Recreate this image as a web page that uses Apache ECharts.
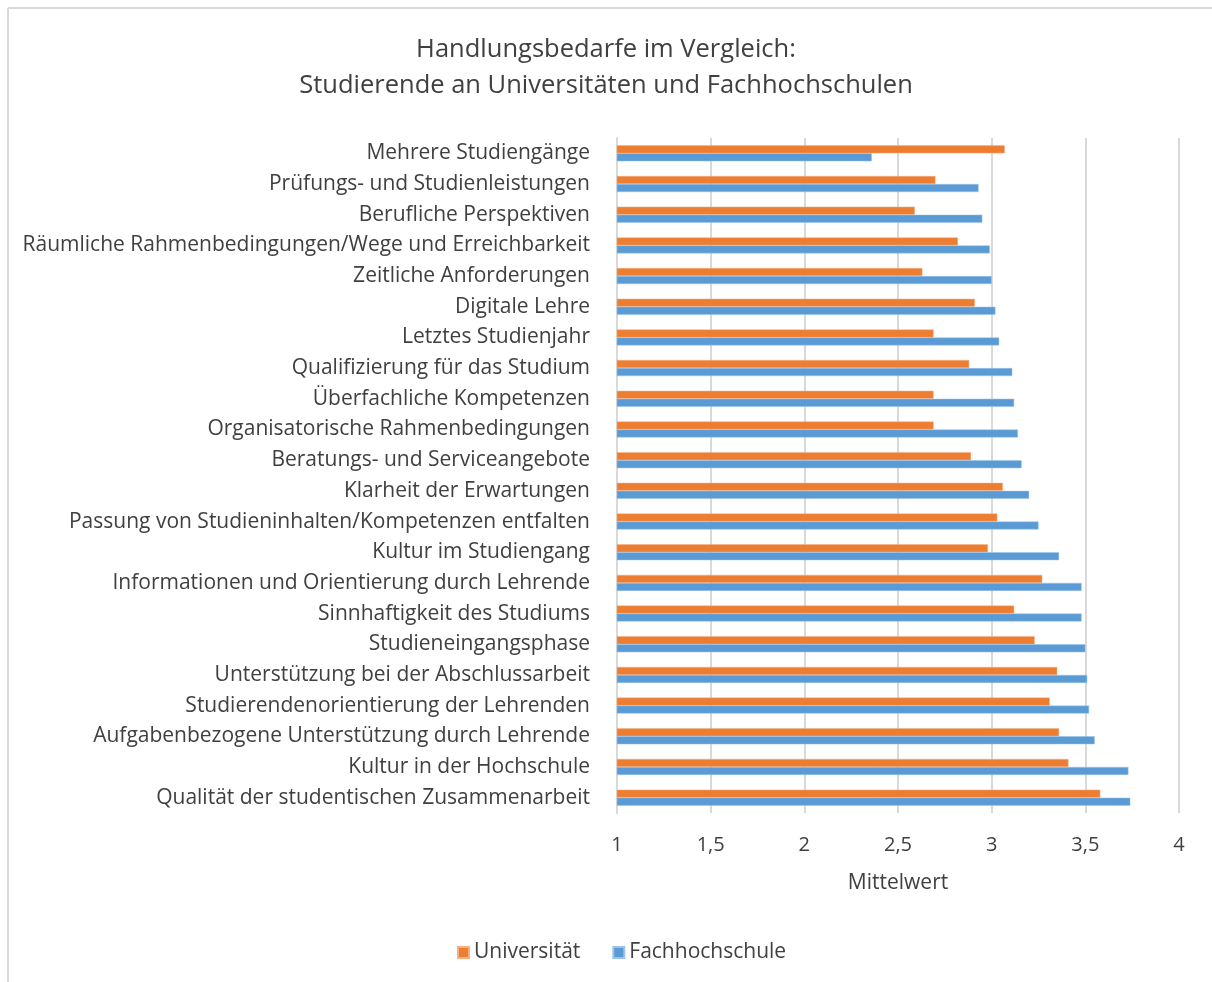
<!DOCTYPE html>
<html>
<head>
<meta charset="utf-8">
<script src="https://cdn.jsdelivr.net/npm/echarts@6/dist/echarts.min.js"></script>
<style>
html,body{margin:0;padding:0;background:#fff;}
#c{width:1212px;height:982px;}
</style>
</head>
<body>
<div id="c"></div>
<script>
// Categories, top to bottom as shown
const categories = [
  "Mehrere Studiengänge",
  "Prüfungs- und Studienleistungen",
  "Berufliche Perspektiven",
  "Räumliche Rahmenbedingungen/Wege und Erreichbarkeit",
  "Zeitliche Anforderungen",
  "Digitale Lehre",
  "Letztes Studienjahr",
  "Qualifizierung für das Studium",
  "Überfachliche Kompetenzen",
  "Organisatorische Rahmenbedingungen",
  "Beratungs- und Serviceangebote",
  "Klarheit der Erwartungen",
  "Passung von Studieninhalten/Kompetenzen entfalten",
  "Kultur im Studiengang",
  "Informationen und Orientierung durch Lehrende",
  "Sinnhaftigkeit des Studiums",
  "Studieneingangsphase",
  "Unterstützung bei der Abschlussarbeit",
  "Studierendenorientierung der Lehrenden",
  "Aufgabenbezogene Unterstützung durch Lehrende",
  "Kultur in der Hochschule",
  "Qualität der studentischen Zusammenarbeit"
];
const universitaet = [3.07, 2.70, 2.59, 2.82, 2.63, 2.91, 2.69, 2.88, 2.69, 2.69, 2.89, 3.06, 3.03, 2.98, 3.27, 3.12, 3.23, 3.35, 3.31, 3.36, 3.41, 3.58];
const fachhochschule = [2.36, 2.93, 2.95, 2.99, 3.00, 3.02, 3.04, 3.11, 3.12, 3.14, 3.16, 3.20, 3.25, 3.36, 3.48, 3.48, 3.50, 3.51, 3.52, 3.55, 3.73, 3.74];
const seriesNames = ["Universität", "Fachhochschule"];
const titleLines = ["Handlungsbedarfe im Vergleich:", "Studierende an Universitäten und Fachhochschulen"];
const axisName = "Mittelwert";

const FONT = "Open Sans";
const TXT = "#404040";

const chart = echarts.init(document.getElementById('c'));
chart.setOption({
  backgroundColor: '#ffffff',
  animation: false,
  title: {
    text: titleLines.join('\n'),
    left: 'center',
    top: 27,
    textStyle: { fontFamily: FONT, fontSize: 25.5, fontWeight: 'normal', color: TXT, lineHeight: 36 }
  },
  legend: {
    data: seriesNames,
    bottom: 14,
    left: 452,
    itemWidth: 11,
    itemHeight: 11,
    itemGap: 32,
    icon: 'rect',
    textStyle: { fontFamily: FONT, fontSize: 21, color: TXT }
  },
  grid: { left: 617, right: 33, top: 138, bottom: 169, containLabel: false },
  xAxis: {
    type: 'value',
    min: 1, max: 4, interval: 0.5,
    name: axisName,
    nameLocation: 'middle',
    nameGap: 60,
    nameTextStyle: { fontFamily: FONT, fontSize: 21, color: TXT },
    axisLine: { show: false },
    axisTick: { show: false },
    axisLabel: {
      fontFamily: FONT, fontSize: 20, color: TXT, margin: 22,
      formatter: v => String(v).replace('.', ',')
    },
    splitLine: { lineStyle: { color: '#d9d9d9', width: 2 } }
  },
  yAxis: {
    type: 'category',
    data: categories,
    inverse: true,
    axisLine: { show: true, lineStyle: { color: '#d9d9d9', width: 2 } },
    axisTick: { show: false },
    axisLabel: { fontFamily: FONT, fontSize: 21, color: TXT, margin: 27 }
  },
  series: [
    {
      name: seriesNames[0], type: 'bar', data: universitaet,
      barWidth: 8, barGap: '0%',
      itemStyle: { color: '#ED7D31', borderColor: '#F4B183', borderWidth: 0.5 }
    },
    {
      name: seriesNames[1], type: 'bar', data: fachhochschule,
      barWidth: 8, barGap: '0%',
      itemStyle: { color: '#5B9BD5', borderColor: '#9DC3E6', borderWidth: 0.5 }
    }
  ],
  graphic: [
    { type: 'line', shape: { x1: 8, y1: 8, x2: 1212, y2: 8 }, style: { stroke: '#d9d9d9', lineWidth: 2 } },
    { type: 'line', shape: { x1: 8, y1: 8, x2: 8, y2: 982 }, style: { stroke: '#d9d9d9', lineWidth: 2 } }
  ]
});
</script>
</body>
</html>
